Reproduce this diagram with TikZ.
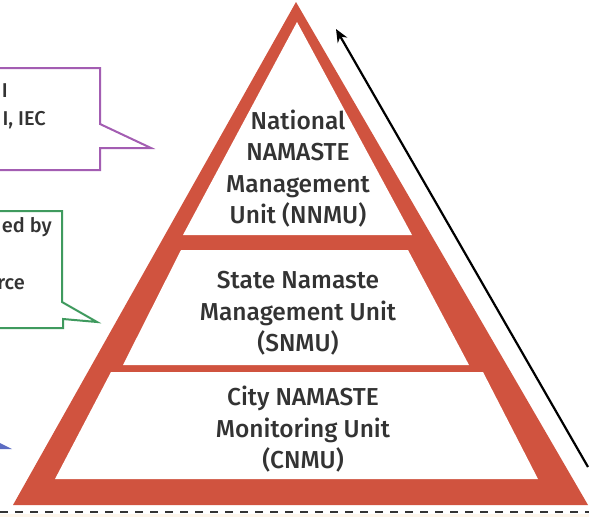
\documentclass[tikz,border=0pt]{standalone}
\usepackage{fontspec}
\setmainfont{Fira Sans}[UprightFont=* Medium]
\usetikzlibrary{arrows.meta}
\definecolor{tierred}{HTML}{D0533F}
\definecolor{calloutpurple}{HTML}{A35DB2}
\definecolor{calloutgreen}{HTML}{3F9A5E}
\definecolor{calloutblue}{HTML}{5C6CC2}
\definecolor{textgrey}{HTML}{333333}
\definecolor{cream}{HTML}{FDF5EA}
\tikzset{
  tiertext/.style={align=center, text=textgrey, font=\fontsize{24.5}{31.5}\selectfont},
  sidetext/.style={anchor=base east, inner sep=0pt, text=textgrey, font=\fontsize{20}{22}\selectfont},
}
\begin{document}
\begin{tikzpicture}[x=1pt,y=-1pt]
\useasboundingbox (0,0) rectangle (589,517);
\fill[white] (0,0) rectangle (589,517);
\fill[cream] (0,514) rectangle (589,517);
% pyramid
\fill[tierred] (296,2) -- (588,505) -- (13,505) -- cycle;
\fill[white] (297,22) -- (412,235) -- (183,235) -- cycle;
\fill[white] (181,250) -- (408,250) -- (469,365) -- (123,365) -- cycle;
\fill[white] (111,372) -- (483,372) -- (538,479) -- (55,479) -- cycle;
\node[tiertext] (nnmu) at (298,168.5) {National\\NAMASTE\\Management\\Unit (NNMU)};
\node[tiertext] (snmu) at (298,313.5) {State Namaste\\Management Unit\\(SNMU)};
\node[tiertext] (cnmu) at (303,429.5) {City NAMASTE\\Monitoring Unit\\(CNMU)};
% callouts
\draw[calloutpurple, line width=2pt] (-5,68) -- (100,68) -- (100,124) -- (151,148) -- (100,148) -- (100,170) -- (-5,170);
\node[sidetext] (purpleA) at (8,97) {I};
\node[sidetext] (purpleB) at (46,125) {I, IEC};
\draw[calloutgreen, line width=2pt] (-5,211) -- (62,211) -- (62,302) -- (97,322) -- (63,319) -- (63,328) -- (-5,328);
\node[sidetext] (greenA) at (52,232) {ed by};
\node[sidetext] (greenB) at (25,289) {rce};
\fill[calloutblue] (0,443) -- (12,449) -- (0,449) -- cycle;
% arrow
\coordinate (arrowtail) at (588,467);
\coordinate (arrowtip) at (336,29);
\draw[line width=2.2pt, -{Stealth[length=13pt, width=11pt]}] (arrowtail) -- (arrowtip);
% baseline
\draw[textgrey, line width=2.5pt, dash pattern=on 8pt off 7pt] (0,512) -- (589,512);
\end{tikzpicture}
\end{document}
